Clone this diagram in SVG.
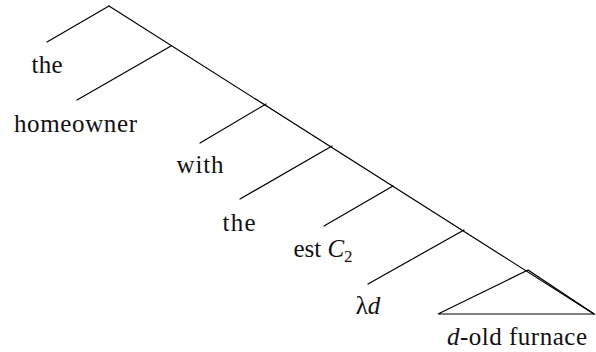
<svg xmlns="http://www.w3.org/2000/svg" width="596" height="352" viewBox="0 0 596 352">
<style>
.e{stroke:#000;stroke-width:1.2;fill:none;stroke-linecap:round}
.i{font-style:italic}
</style>
<rect width="596" height="352" fill="#fff"/>
<g id="connectors">
<line class="e" x1="109" y1="6" x2="594" y2="314"/>
<line class="e" x1="109" y1="6" x2="47" y2="42"/>
<line class="e" x1="171" y1="46" x2="77" y2="100"/>
<line class="e" x1="266" y1="104" x2="200" y2="143"/>
<line class="e" x1="332" y1="146" x2="240" y2="199"/>
<line class="e" x1="393" y1="186" x2="324" y2="226"/>
<line class="e" x1="464" y1="230" x2="368" y2="284"/>
<polygon class="e" points="528,270 438,314 594,314"/>
</g>
<g font-family="Liberation Serif, Times New Roman, serif" font-size="25" fill="#111" text-anchor="middle">
<g id="n1"><text x="47" y="73" textLength="31">the</text></g>
<g id="n2"><text x="75.5" y="132" textLength="123">homeowner</text></g>
<g id="n3"><text x="200" y="173" textLength="47">with</text></g>
<g id="n4"><text x="239" y="231" textLength="33">the</text></g>
<g id="n5"><text x="323" y="257">est <tspan class="i">C</tspan><tspan font-size="17" dy="5">2</tspan></text></g>
<g id="n6"><text x="368" y="314">λ<tspan class="i">d</tspan></text></g>
<g id="n7"><text x="517" y="345" textLength="140"><tspan class="i">d</tspan>-old furnace</text></g>
</g>
</svg>
